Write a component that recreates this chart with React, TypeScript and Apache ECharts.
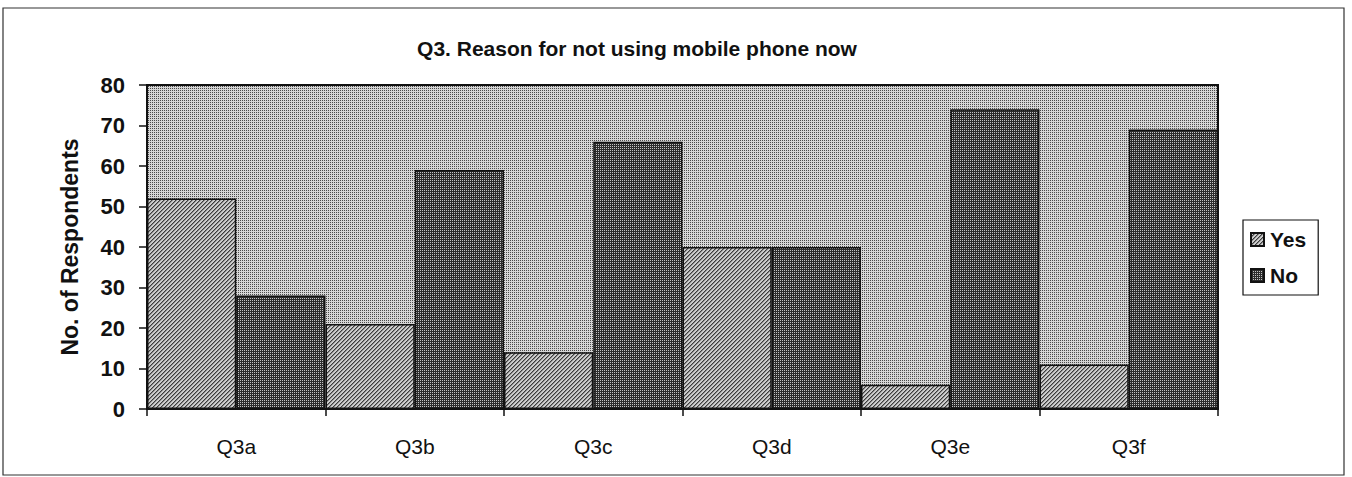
import React, { useEffect, useRef } from "react";
import * as echarts from "echarts";

const categories = ["Q3a", "Q3b", "Q3c", "Q3d", "Q3e", "Q3f"];
const yesValues = [52, 21, 14, 40, 6, 11];
const noValues = [28, 59, 66, 40, 74, 69];
const yTicks = { min: 0, max: 80, interval: 10 };

const FONT = "'Liberation Sans', Arial, sans-serif";

// Build a small repeating tile for hatched / dotted fills.
function makeTile(size: number, base: string, marks: Array<[number, number, string]>) {
  const c = document.createElement("canvas");
  c.width = size;
  c.height = size;
  const ctx = c.getContext("2d")!;
  ctx.fillStyle = base;
  ctx.fillRect(0, 0, size, size);
  for (const [x, y, col] of marks) {
    ctx.fillStyle = col;
    ctx.fillRect(x, y, 1, 1);
  }
  return c;
}

export default function App() {
  const ref = useRef<HTMLDivElement>(null);

  useEffect(() => {
    document.body.style.margin = "0";
    const chart = echarts.init(ref.current!, undefined, { renderer: "svg" });

    const bgTile = makeTile(2, "#d6d6d6", [[0, 0, "#4a4a4a"]]);
    const yesTile = makeTile(4, "#cdcdcd", [
      [0, 3, "#3c3c3c"], [1, 2, "#3c3c3c"], [2, 1, "#3c3c3c"], [3, 0, "#3c3c3c"],
      [1, 3, "#8a8a8a"], [2, 2, "#8a8a8a"], [3, 1, "#8a8a8a"], [0, 0, "#8a8a8a"],
    ]);
    const noTile = makeTile(2, "#2c2c2c", [[0, 0, "#c4c4c4"]]);

    const bgPattern = { image: bgTile, repeat: "repeat" };
    const yesPattern = { image: yesTile, repeat: "repeat" };
    const noPattern = { image: noTile, repeat: "repeat" };

    chart.setOption({
      animation: false,
      backgroundColor: "#ffffff",
      title: {
        text: "Q3. Reason for not using mobile phone now",
        left: 632,
        top: 33,
        textAlign: "center",
        textStyle: { fontFamily: FONT, fontSize: 21, fontWeight: "bold", color: "#111" },
      },
      graphic: [
        {
          type: "rect",
          shape: { x: 3, y: 8, width: 1341, height: 467 },
          style: { fill: "none", stroke: "#333", lineWidth: 1.2 },
          silent: true,
        },
      ],
      legend: {
        orient: "vertical",
        left: 1243,
        top: 220,
        padding: [9, 12, 9, 7],
        itemGap: 15,
        itemWidth: 13,
        itemHeight: 13,
        backgroundColor: "#fff",
        borderColor: "#111",
        borderWidth: 1.2,
        borderRadius: 0,
        icon: "rect",
        textStyle: { fontFamily: FONT, fontSize: 21, fontWeight: "bold", color: "#111", padding: [0, 0, 0, 1] },
        data: ["Yes", "No"],
      },
      grid: {
        left: 147,
        top: 85,
        right: 134,
        bottom: 68,
        show: true,
        backgroundColor: bgPattern,
        borderColor: "#111",
        borderWidth: 2,
        containLabel: false,
      },
      xAxis: {
        type: "category",
        data: categories,
        axisLine: { lineStyle: { color: "#111", width: 2 } },
        axisTick: { show: true, length: 7, lineStyle: { color: "#111", width: 1.5 } },
        axisLabel: { fontFamily: FONT, fontSize: 21, color: "#111", margin: 27 },
        splitLine: { show: false },
      },
      yAxis: {
        type: "value",
        min: yTicks.min,
        max: yTicks.max,
        interval: yTicks.interval,
        name: "No. of Respondents",
        nameLocation: "middle",
        nameGap: 66,
        nameMoveOverlap: false,
        nameTextStyle: { fontFamily: FONT, fontSize: 23, fontWeight: "bold", color: "#111" },
        axisLine: { show: true, lineStyle: { color: "#111", width: 2 } },
        axisTick: { show: true, length: 8, lineStyle: { color: "#111", width: 1.5 } },
        axisLabel: { fontFamily: FONT, fontSize: 22, fontWeight: "bold", color: "#111", margin: 22 },
        splitLine: { show: false },
      },
      series: [
        {
          name: "Yes",
          type: "bar",
          data: yesValues,
          barGap: "0%",
          barCategoryGap: "0%",
          itemStyle: { color: yesPattern, borderColor: "#111", borderWidth: 1.5 },
        },
        {
          name: "No",
          type: "bar",
          data: noValues,
          barGap: "0%",
          barCategoryGap: "0%",
          itemStyle: { color: noPattern, borderColor: "#111", borderWidth: 1.5 },
        },
      ],
    });

    return () => chart.dispose();
  }, []);

  return <div ref={ref} style={{ width: 1352, height: 477 }} />;
}
